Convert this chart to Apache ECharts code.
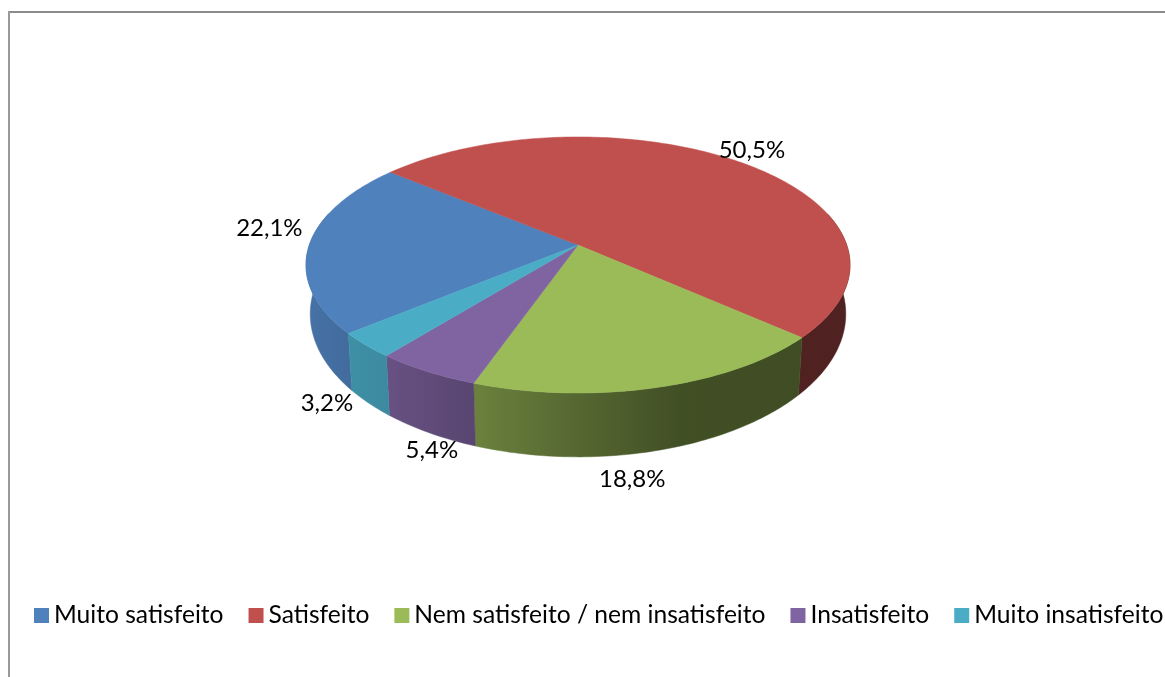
<!DOCTYPE html>
<html>
<head>
<meta charset="utf-8">
<style>
  html, body { margin: 0; padding: 0; background: #fff; }
  #main { width: 1165px; height: 677px; }
</style>
<script src="https://cdn.jsdelivr.net/npm/echarts@6/dist/echarts.min.js"></script>
</head>
<body>
<div id="main"></div>
<script>
var categories = ['Muito satisfeito', 'Satisfeito', 'Nem satisfeito / nem insatisfeito', 'Insatisfeito', 'Muito insatisfeito'];
var shares = [22.1, 50.5, 18.8, 5.4, 3.2];
var colors = ['#4f81bd', '#c0504d', '#9bbb59', '#8064a2', '#4bacc6'];

// label offset from the middle of each slice's rim, in px
var labelShift = [[-40, -17], [17, -10], [-25, 92], [5, 79], [-39, 58]];

// side wall brightness by screen x
var wallStops = [[306, .88], [353, .83], [386, .81], [475, .69], [570, .56], [680, .42], [850, .41]];

var fontName = 'Lato';

// perspective of the disc: top circle and the (further) bottom circle
var cx = 578, persp = .156;
var top3d = { y: 245, rx: 268.7, ry: 124.9 };
var bottom3d = { y: 291.6, rx: 264.5, ry: 139.5 };
var startDeg = 230.3;

function project(deg, disc) {
  var a = deg * Math.PI / 180;
  var x = Math.sin(a), z = Math.cos(a), d = 1 + persp * z;
  return [cx + disc.rx * x / d, disc.y - disc.ry * z / d];
}

function arcPoints(from, to, disc) {
  var pts = [];
  for (var d = from; d < to; d += 1) pts.push(project(d, disc));
  pts.push(project(to, disc));
  return pts;
}

function wallFill(color) {
  var c = echarts.color.parse(color);
  var x0 = wallStops[0][0], x1 = wallStops[wallStops.length - 1][0];
  var stops = wallStops.map(function (s) {
    return {
      offset: (s[0] - x0) / (x1 - x0),
      color: 'rgb(' + Math.round(c[0] * s[1]) + ',' + Math.round(c[1] * s[1]) + ',' + Math.round(c[2] * s[1]) + ')'
    };
  });
  return new echarts.graphic.LinearGradient(x0, 0, x1, 0, stops, true);
}

function sliceRenderer(i) {
  return function (params, api) {
    var a0 = api.value(0), a1 = api.value(1);
    var children = [];

    // only the walls facing the viewer
    [0, 1].forEach(function (k) {
      var lo = Math.max(a0, 75 + 360 * k), hi = Math.min(a1, 285 + 360 * k);
      if (lo >= hi) return;
      var pts = arcPoints(lo, hi, top3d).concat(arcPoints(lo, hi, bottom3d).reverse());
      var fill = wallFill(colors[i]);
      children.push({
        type: 'polygon', z2: 1,
        shape: { points: pts },
        style: { fill: fill, stroke: fill, lineWidth: .5 }
      });
    });

    children.push({
      type: 'polygon', z2: 10,
      shape: { points: [[cx, top3d.y]].concat(arcPoints(a0, a1, top3d)) },
      style: { fill: colors[i], stroke: colors[i], lineWidth: .5 }
    });

    var rim = project((a0 + a1) / 2, top3d);
    children.push({
      type: 'text', z2: 20,
      style: {
        x: rim[0] + labelShift[i][0],
        y: rim[1] + labelShift[i][1],
        text: shares[i].toFixed(1).replace('.', ',') + '%',
        font: '24px ' + fontName,
        fill: '#000',
        align: 'center',
        verticalAlign: 'middle'
      }
    });
    return { type: 'group', children: children };
  };
}

var total = shares.reduce(function (s, v) { return s + v; }, 0);
var cursor = startDeg;
var series = categories.map(function (name, i) {
  var from = cursor;
  cursor += shares[i] / total * 360;
  return {
    name: name,
    type: 'custom',
    coordinateSystem: 'none',
    silent: true,
    animation: false,
    itemStyle: { color: colors[i] },
    renderItem: sliceRenderer(i),
    data: [[from, cursor]]
  };
});

var chart = echarts.init(document.getElementById('main'));
chart.setOption({
  backgroundColor: '#fff',
  animation: false,
  legend: {
    left: 34,
    top: 603,
    icon: 'rect',
    itemWidth: 15,
    itemHeight: 15,
    itemGap: 25,
    padding: 0,
    selectedMode: false,
    textStyle: { fontFamily: fontName, fontSize: 24.6, color: '#000' },
    data: categories
  },
  graphic: [
    { type: 'line', shape: { x1: 9, y1: 12, x2: 1165, y2: 12 }, style: { stroke: '#8c8c8c', lineWidth: 2 } },
    { type: 'line', shape: { x1: 9, y1: 11, x2: 9, y2: 677 }, style: { stroke: '#9a9a9a', lineWidth: 2 } }
  ],
  series: series
});
</script>
</body>
</html>
